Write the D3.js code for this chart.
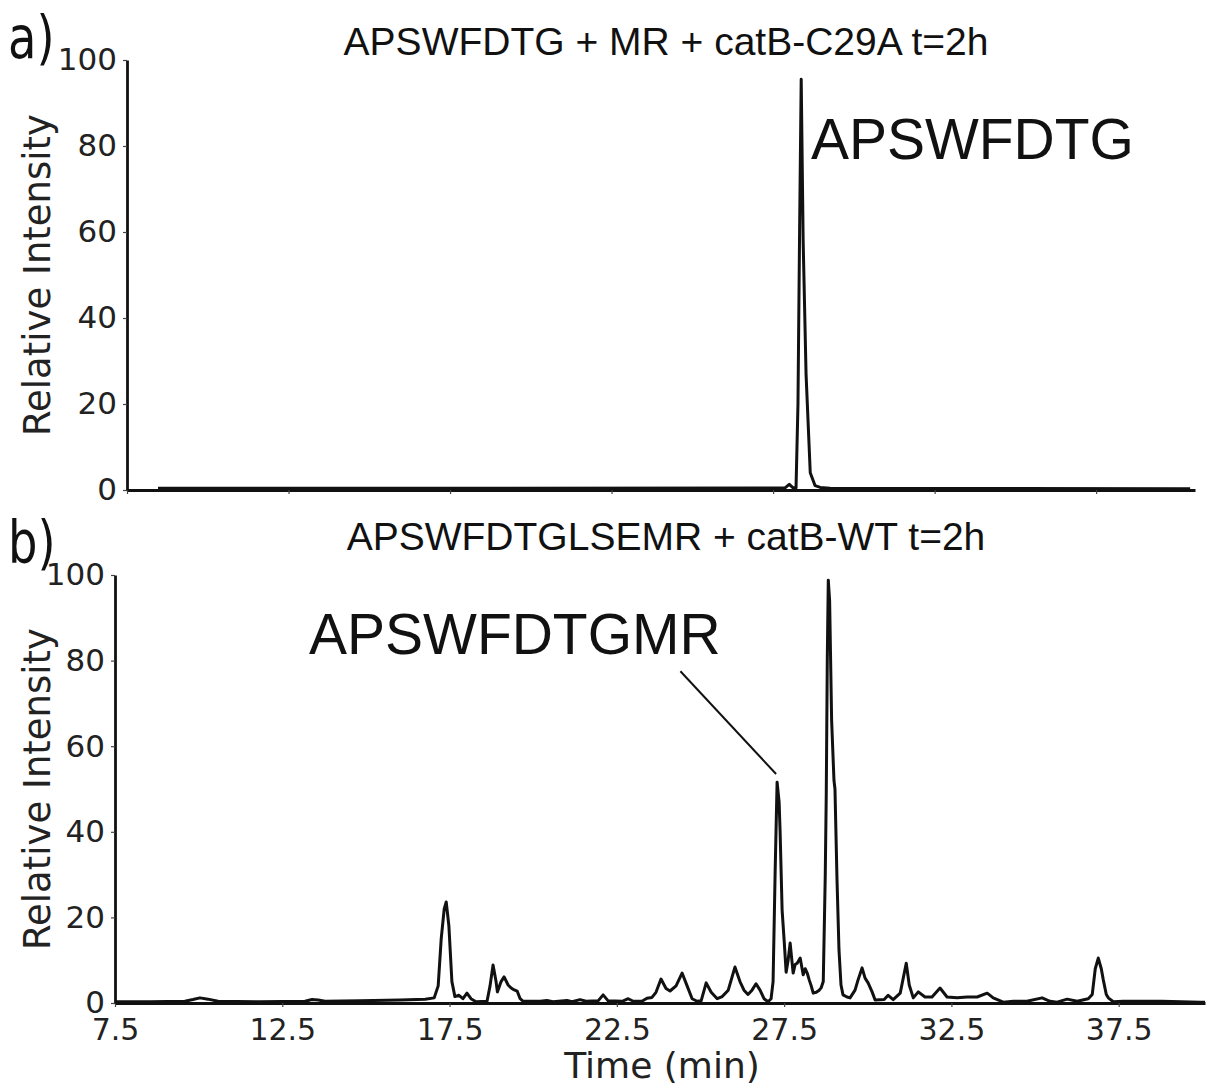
<!DOCTYPE html>
<html>
<head>
<meta charset="utf-8">
<script src="https://cdn.jsdelivr.net/npm/d3@7"></script>
<style>
  body { margin: 0; background: #fff; }
  svg { display: block; }
</style>
</head>
<body>
<svg id="chart" width="1210" height="1086"></svg>
<script>
// ticks
const xTicks = [7.5, 12.5, 17.5, 22.5, 27.5, 32.5, 37.5];
const yTicks = [0, 20, 40, 60, 80, 100];

// panel a: APSWFDTG + MR + catB-C29A
const timeA = [8.46, 19.05, 27.87, 28.00, 28.12, 28.21, 28.27, 28.32, 28.37, 28.43, 28.52, 28.65, 28.80, 28.96, 29.26, 40.41];
const intensityA = [0.4, 0.4, 0.5, 1.3, 0.5, 0.5, 20, 60, 95.5, 58, 27, 4, 1, 0.6, 0.4, 0.3];

// panel b: APSWFDTGLSEMR + catB-WT
const timeB = [
  7.50, 8.55, 9.59, 9.83, 10.04, 10.28, 10.58, 11.83, 13.18, 13.39, 13.57, 13.78, 14.82, 16.02, 16.77,
  17.04, 17.16, 17.25, 17.34, 17.40, 17.48, 17.57, 17.66, 17.78, 17.90, 18.02, 18.14, 18.29, 18.62,
  18.71, 18.80, 18.89, 18.93, 19.04, 19.13, 19.25, 19.34, 19.40, 19.52, 19.61, 19.70, 20.21, 20.41,
  20.59, 21.01, 21.16, 21.40, 21.58, 21.94, 22.09, 22.24, 22.66, 22.84, 22.99, 23.25, 23.40, 23.55,
  23.67, 23.82, 23.97, 24.09, 24.27, 24.45, 24.60, 24.75, 24.90, 25.02, 25.17, 25.32, 25.50, 25.65,
  25.83, 26.03, 26.18, 26.30, 26.42, 26.54, 26.66, 26.78, 26.90, 27.02, 27.11, 27.17, 27.23, 27.29,
  27.35, 27.38, 27.44, 27.50, 27.56, 27.62, 27.68, 27.77, 27.83, 27.89, 27.98, 28.07, 28.13, 28.19,
  28.25, 28.31, 28.37, 28.46, 28.55, 28.61, 28.67, 28.73, 28.76, 28.79, 28.82, 28.86, 28.92, 28.99,
  29.02, 29.08, 29.14, 29.20, 29.26, 29.38, 29.47, 29.62, 29.71, 29.83, 29.92, 30.01, 30.13, 30.22,
  30.49, 30.61, 30.76, 30.97, 31.06, 31.15, 31.24, 31.36, 31.51, 31.71, 31.92, 32.16, 32.37, 32.67,
  32.97, 33.27, 33.57, 33.75, 34.05, 34.35, 34.76, 35.21, 35.45, 35.66, 35.96, 36.26, 36.59, 36.71,
  36.80, 36.89, 36.98, 37.04, 37.13, 37.19, 37.34, 37.63, 38.14, 38.80, 39.94, 40.08
];
const intensityB = [
  0.3, 0.3, 0.4, 0.8, 1.2, 0.9, 0.4, 0.3, 0.4, 0.8, 0.7, 0.4, 0.5, 0.7, 0.9,
  1.2, 4, 15, 22, 23.6, 18, 5, 1.5, 1.8, 1, 2.3, 1, 0.3, 0.4,
  4, 8.9, 5, 2.6, 5, 6.1, 4.2, 3.5, 3.2, 2.8, 1, 0.4, 0.4, 0.6,
  0.3, 0.6, 0.3, 0.8, 0.4, 0.5, 1.9, 0.5, 0.4, 1, 0.4, 0.4, 1.1, 1.3,
  2.5, 5.6, 3.4, 2.8, 4, 7.0, 4, 1, 0.4, 0.5, 4.7, 2.5, 1, 1.5,
  3, 8.4, 5, 3, 2, 3, 4.5, 3, 1, 0.3, 1, 5, 30, 51.6,
  47, 40, 21.7, 14.7, 7.2, 10, 14, 7, 9, 9.3, 10.5, 6.6, 8, 7,
  5.4, 4, 2.3, 2.5, 3, 3.6, 5, 30, 49, 80, 98.8, 94, 66, 52,
  50, 29, 12.4, 4.2, 1.9, 1.4, 1.2, 3, 5.4, 8.2, 5.8, 4.7, 2.6, 0.7,
  0.8, 1.8, 0.8, 2.3, 5.8, 9.3, 4.2, 1.2, 2.6, 1.4, 1.4, 3.5, 1.4, 1.2,
  1.4, 1.4, 2.3, 1.2, 0.2, 0.4, 0.4, 1.2, 0.4, 0.2, 0.9, 0.4, 1, 2,
  8, 10.5, 8, 5.4, 2, 1.2, 0.3, 0.4, 0.4, 0.4, 0.2, 0.2
];

const svg = d3.select("#chart");
const labelFont = "'Liberation Sans', Arial, sans-serif";
const tickFont = "'DejaVu Sans', sans-serif";

function drawPanel(opts) {
  const x = d3.scaleLinear().domain(opts.xDomain).range(opts.xRange);
  const y = d3.scaleLinear().domain([0, 100]).range(opts.yRange);
  const g = svg.append("g");

  // x axis
  const xAxis = g.append("g")
    .attr("transform", `translate(0,${opts.yRange[0]})`)
    .call(d3.axisBottom(x).tickValues(xTicks).tickSize(4).tickSizeOuter(0)
      .tickFormat(opts.xLabels ? d3.format(".1f") : ""));
  xAxis.select(".domain").attr("stroke", "#111").attr("stroke-width", 2.8);
  xAxis.selectAll(".tick line").attr("stroke", "#444").attr("stroke-width", 1.2);
  xAxis.selectAll(".tick text")
    .attr("font-family", tickFont).attr("font-size", 30).attr("fill", "#222")
    .attr("dy", "0.82em").attr("y", 12);

  // y axis
  const yAxis = g.append("g")
    .attr("transform", `translate(${opts.xRange[0]},0)`)
    .call(d3.axisLeft(y).tickValues(yTicks).tickSize(4).tickSizeOuter(0).tickPadding(6));
  yAxis.select(".domain").attr("stroke", "#111").attr("stroke-width", 2.8);
  yAxis.selectAll(".tick line").attr("stroke", "#444").attr("stroke-width", 1.2);
  yAxis.selectAll(".tick text")
    .attr("font-family", tickFont).attr("font-size", 31).attr("fill", "#222");

  // y label
  g.append("text")
    .attr("transform", `translate(${opts.yLabelX},${(opts.yRange[0] + opts.yRange[1]) / 2}) rotate(-90)`)
    .attr("text-anchor", "middle")
    .attr("font-family", tickFont).attr("font-size", 37).attr("fill", "#222")
    .text("Relative Intensity");

  // title
  g.append("text")
    .attr("x", 666).attr("y", opts.titleY)
    .attr("text-anchor", "middle")
    .attr("font-family", labelFont).attr("font-size", 39).attr("fill", "#111")
    .text(opts.title);

  // panel letter
  g.append("text")
    .attr("transform", `translate(8,${opts.letterY}) scale(0.8,1)`)
    .attr("font-family", tickFont).attr("font-size", 58).attr("fill", "#111")
    .text(opts.letter);

  // trace
  const line = d3.line()
    .x((d, i) => x(opts.times[i]))
    .y(d => y(d));
  g.append("path")
    .datum(opts.values)
    .attr("fill", "none")
    .attr("stroke", "#111")
    .attr("stroke-width", 3)
    .attr("stroke-linejoin", "round")
    .attr("d", line);

  return { g, x, y };
}

// panel a
const a = drawPanel({
  xDomain: [7.5, 40.56], xRange: [127, 1195], yRange: [490, 60],
  xLabels: false, yLabelX: 50, titleY: 55, letterY: 58, letter: "a)",
  title: "APSWFDTG + MR + catB-C29A t=2h",
  times: timeA, values: intensityA
});
a.g.append("text")
  .attr("x", a.x(28.67)).attr("y", a.y(77))
  .attr("font-family", labelFont).attr("font-size", 57).attr("fill", "#111")
  .text("APSWFDTG");

// panel b
const b = drawPanel({
  xDomain: [7.5, 40.08], xRange: [115, 1205], yRange: [1003, 575],
  xLabels: true, yLabelX: 50, titleY: 550, letterY: 563, letter: "b)",
  title: "APSWFDTGLSEMR + catB-WT t=2h",
  times: timeB, values: intensityB
});
b.g.append("text")
  .attr("x", b.x(13.3)).attr("y", b.y(81.5))
  .attr("font-family", labelFont).attr("font-size", 57).attr("fill", "#111")
  .text("APSWFDTGMR");
b.g.append("line")
  .attr("x1", b.x(24.4)).attr("y1", b.y(77.5))
  .attr("x2", b.x(27.26)).attr("y2", b.y(53.5))
  .attr("stroke", "#111").attr("stroke-width", 2);

// x label
svg.append("text")
  .attr("x", 662).attr("y", 1078)
  .attr("text-anchor", "middle")
  .attr("font-family", tickFont).attr("font-size", 36).attr("fill", "#222")
  .text("Time (min)");
</script>
</body>
</html>
